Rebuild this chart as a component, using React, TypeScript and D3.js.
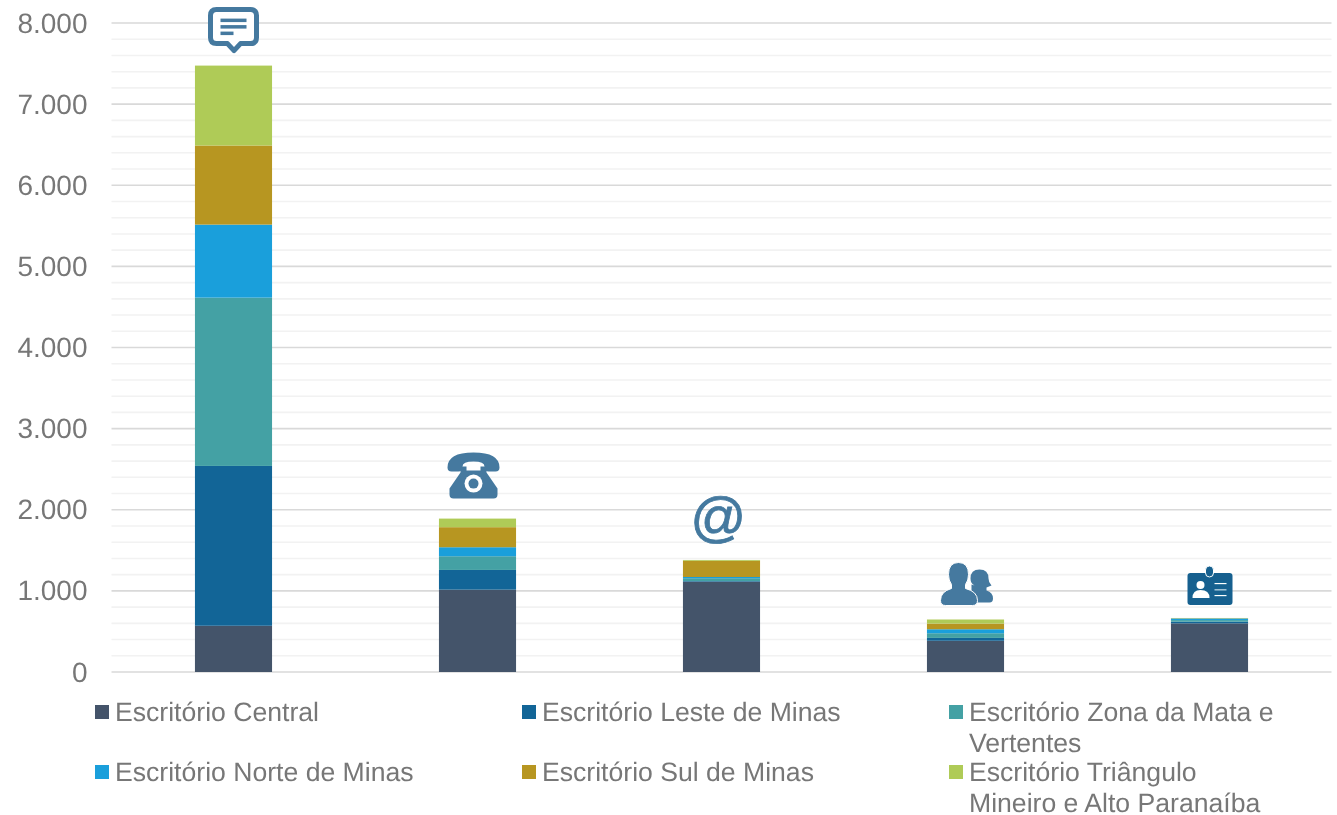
import React from "react";
import * as d3 from "d3";

const categories = ["Chat", "Telefone", "E-mail", "Presencial", "Credencial"];
const seriesNames = [
  "Escritório Central",
  "Escritório Leste de Minas",
  "Escritório Zona da Mata e Vertentes",
  "Escritório Norte de Minas",
  "Escritório Sul de Minas",
  "Escritório Triângulo Mineiro e Alto Paranaíba",
];
const central = [570, 1015, 1113, 385, 600];
const leste = [1970, 243, 8, 35, 20];
const zonaMata = [2075, 169, 35, 58, 20];
const norte = [900, 111, 15, 49, 20];
const sul = [975, 247, 200, 70, 3];
const triangulo = [985, 106, 10, 50, 3];
const seriesValues = [central, leste, zonaMata, norte, sul, triangulo];
const colors = ["#44546a", "#126597", "#44a1a4", "#1a9fdb", "#b79621", "#afcb57"];
const legendLines = [
  ["Escritório Central"],
  ["Escritório Leste de Minas"],
  ["Escritório Zona da Mata e", "Vertentes"],
  ["Escritório Norte de Minas"],
  ["Escritório Sul de Minas"],
  ["Escritório Triângulo", "Mineiro e Alto Paranaíba"],
];
const majorTicks = [0, 1000, 2000, 3000, 4000, 5000, 6000, 7000, 8000];
const minorTicks = d3.range(0, 8001, 200).filter((v) => v % 1000 !== 0);
const legendX = [95, 522, 949];
const legendY = [705, 765];

const FONT = "'Liberation Sans', Arial, sans-serif";
const ICON = "#44799f";

function ChatIcon() {
  return (
    <g>
      <path
        d="M-17,-21 H17 Q23,-21 23,-15 V7 Q23,13 17,13 H7 L0.5,20 L-6,13 H-17 Q-23,13 -23,7 V-15 Q-23,-21 -17,-21 Z"
        fill="#fff"
        stroke={ICON}
        strokeWidth={5}
        strokeLinejoin="round"
      />
      <rect x={-13} y={-12} width={26} height={3.5} fill={ICON} />
      <rect x={-13} y={-5.5} width={26} height={3.5} fill={ICON} />
      <rect x={-13} y={1} width={13} height={3.5} fill={ICON} />
    </g>
  );
}

function PhoneIcon() {
  return (
    <g fill={ICON} transform="translate(-4,1)">
      <path d="M-26,-9 Q-26,-24 0,-24 Q26,-24 26,-9 Q26,-5 22,-5 L15,-5 Q11,-5 11,-10 Q11,-15 0,-15 Q-11,-15 -11,-10 Q-11,-5 -15,-5 L-22,-5 Q-26,-5 -26,-9 Z" />
      <path d="M-13,-10 H-7 V-6 H7 V-10 H13 V-4 L24,12 V18 Q24,22 20,22 H-20 Q-24,22 -24,18 V12 L-13,-4 Z" />
      <circle cx={0} cy={7} r={9} fill="#fff" />
      <circle cx={0} cy={7} r={5} fill={ICON} />
    </g>
  );
}

function AtIcon() {
  return (
    <text
      x={-4}
      y={18}
      textAnchor="middle"
      fontFamily={FONT}
      fontStyle="italic"
      fontSize={55}
      fill={ICON}
      stroke={ICON}
      strokeWidth={0.8}
    >
      @
    </text>
  );
}

function PeopleIcon() {
  return (
    <g fill={ICON}>
      <path d="M14,-13 Q23,-13 23,-4 Q23,0 26,3 L21,5 L21,8 Q27.5,10 27.5,16 Q27.5,20 24,20 H6 V2 L9,3 Q5,1 5,-4 Q5,-13 14,-13 Z" />
      <path
        d="M-7,-20 Q3,-20 3,-8 Q3,-2 0,2 L0,6 Q12,9 12,18 Q12,23 7,23 H-20 Q-25,23 -25,18 Q-25,9 -14,6 L-14,2 Q-17,-2 -17,-8 Q-17,-20 -7,-20 Z"
        stroke="#fff"
        strokeWidth={1}
      />
    </g>
  );
}

function BadgeIcon() {
  return (
    <g>
      <rect x={-22} y={-16} width={45} height={32} rx={3} fill="#12618f" />
      <rect x={-4} y={-23} width={8} height={11} rx={4} fill="#12618f" stroke="#fff" strokeWidth={1} />
      <circle cx={-9} cy={-4} r={4} fill="#fff" />
      <path d="M-17,9 Q-17,1 -9,1 Q0,1 0,9 Z" fill="#fff" />
      <rect x={5} y={-6} width={12} height={1.2} fill="#fff" />
      <rect x={5} y={0} width={12} height={1.6} fill="#9fc0d4" />
      <rect x={5} y={6} width={12} height={1.2} fill="#fff" />
    </g>
  );
}

const icons = [ChatIcon, PhoneIcon, AtIcon, PeopleIcon, BadgeIcon];
const iconOffset = [-35, -43, -42, -37, -29];

export default function App() {
  const x = d3.scaleBand<string>().domain(categories).range([111.5, 1331.5]).paddingInner(0.684).paddingOuter(0.342);
  const y = d3.scaleLinear().domain([0, 8000]).range([672, 23]);
  const keys = seriesNames.map((_, i) => String(i));
  const rows = categories.map((c, ci) => {
    const r: Record<string, number | string> = { cat: c };
    seriesValues.forEach((s, si) => (r[String(si)] = s[ci]));
    return r;
  });
  const stacked = d3.stack<any>().keys(keys)(rows);
  const totals = categories.map((_, ci) => d3.sum(seriesValues, (s) => s[ci]));
  return (
    <svg
      width={1337}
      height={815}
      style={{ position: "absolute", left: 0, top: 0, background: "#fff" }}
      fontFamily={FONT}
      textRendering="geometricPrecision"
    >
      <defs>
        <filter id="soft" x="-10%" y="-10%" width="120%" height="120%">
          <feGaussianBlur stdDeviation={0.6} />
        </filter>
        <filter id="textSoft" x="0" y="0" width="1337" height="815" filterUnits="userSpaceOnUse">
          <feGaussianBlur stdDeviation={0.3} />
        </filter>
      </defs>
      {minorTicks.map((t) => (
        <line key={t} x1={111.5} x2={1331.5} y1={y(t)} y2={y(t)} stroke="#f2f2f2" strokeWidth={1.6} />
      ))}
      {majorTicks.map((t) => (
        <line key={t} x1={111.5} x2={1331.5} y1={y(t)} y2={y(t)} stroke="#d9d9d9" strokeWidth={1.6} />
      ))}
      <g filter="url(#textSoft)">
        {majorTicks.map((t) => (
          <text key={t} x={87.5} y={y(t) + 9.5} textAnchor="end" fontSize={28} fill="#777777">
            {d3.format(",")(t).replace(/,/g, ".")}
          </text>
        ))}
      </g>
      {stacked.map((layer, si) => (
        <g key={si} fill={colors[si]}>
          {layer.map((d, ci) => (
            <rect
              key={ci}
              x={x(categories[ci])}
              width={x.bandwidth()}
              y={y(d[1])}
              height={y(d[0]) - y(d[1])}
            />
          ))}
        </g>
      ))}
      {icons.map((Icon, i) => (
        <g
          key={i}
          filter="url(#soft)"
          transform={`translate(${x(categories[i])! + x.bandwidth() / 2},${y(totals[i]) + iconOffset[i]})`}
        >
          <Icon />
        </g>
      ))}
      {legendLines.map((lines, i) => {
        const lx = legendX[i % 3];
        const ly = legendY[Math.floor(i / 3)];
        return (
          <g key={i}>
            <rect x={lx} y={ly} width={14} height={14} fill={colors[i]} />
            <text fontSize={26.6} fill="#777777" filter="url(#textSoft)">
              {lines.map((l, k) => (
                <tspan key={k} x={lx + 20} y={ly + 16 + k * 30.5}>
                  {l}
                </tspan>
              ))}
            </text>
          </g>
        );
      })}
    </svg>
  );
}
